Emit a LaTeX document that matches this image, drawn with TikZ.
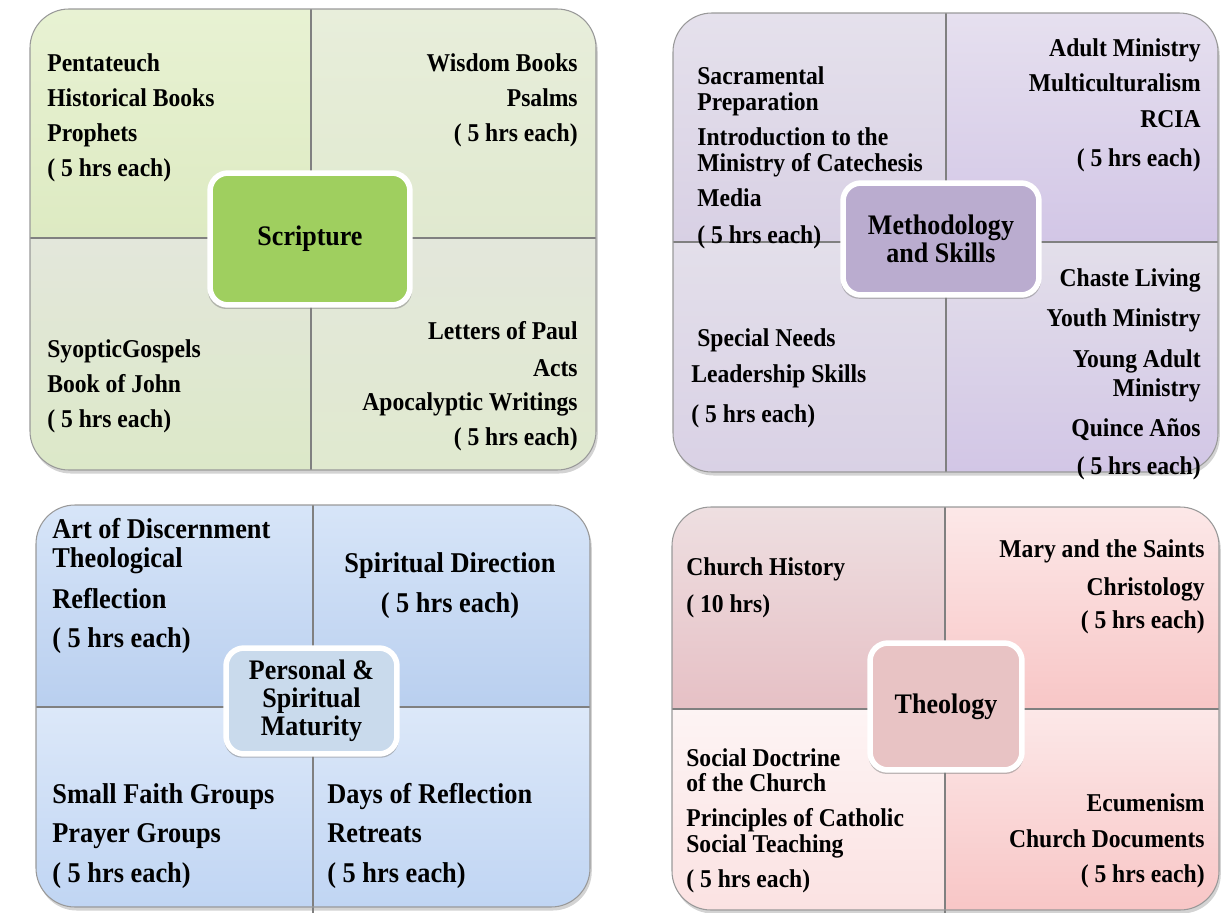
\documentclass[tikz,border=0pt]{standalone}
\usepackage{fontspec}
\setmainfont{Liberation Serif}[FakeStretch=0.92]
\usetikzlibrary{positioning, shadows}
\definecolor{grnA}{HTML}{E8F2D3}
\definecolor{grnB}{HTML}{DDEAC2}
\definecolor{grnC}{HTML}{E8EEDB}
\definecolor{grnD}{HTML}{E0E9CF}
\definecolor{grnE}{HTML}{E3E7DB}
\definecolor{grnF}{HTML}{DCE8C8}
\definecolor{grnHub}{HTML}{9FCF5F}
\definecolor{vioA}{HTML}{E5E1EC}
\definecolor{vioB}{HTML}{D8D0E4}
\definecolor{vioC}{HTML}{E6E0EF}
\definecolor{vioD}{HTML}{D2C6E6}
\definecolor{vioE}{HTML}{E3DFEA}
\definecolor{vioF}{HTML}{D9D1E5}
\definecolor{vioHub}{HTML}{BAACCF}
\definecolor{bluA}{HTML}{D7E5F8}
\definecolor{bluB}{HTML}{B9CFEF}
\definecolor{bluC}{HTML}{DCE8F9}
\definecolor{bluD}{HTML}{C0D5F3}
\definecolor{bluHub}{HTML}{C9DAEC}
\definecolor{pnkA}{HTML}{EEDFE1}
\definecolor{pnkB}{HTML}{E6C0C5}
\definecolor{pnkC}{HTML}{FCE8E8}
\definecolor{pnkD}{HTML}{F8C6C6}
\definecolor{pnkE}{HTML}{FDF4F4}
\definecolor{pnkF}{HTML}{FBE2E2}
\definecolor{pnkHub}{HTML}{E8C3C4}
\newcommand{\itemfont}{\bfseries\fontsize{14.6}{14.8}\selectfont}
\newcommand{\bigitemfont}{\bfseries\fontsize{16.3}{16.5}\selectfont}
\newcommand{\hubfont}{\bfseries\fontsize{16.1}{15.9}\selectfont}
\tikzset{%
  x=0.02cm, y=0.02cm,
  card/.style={fill=white, rounded corners=0.78cm, drop shadow={opacity=0.35, shadow xshift=1pt, shadow yshift=-2pt}},
  rim/.style={draw=black!40, line width=0.6pt, rounded corners=0.78cm},
  split/.style={draw=black!50, line width=0.9pt},
  hub/.style={draw=white, line width=0.11cm, rounded corners=0.36cm, font=\hubfont, align=center, inner sep=0pt,
    drop shadow={opacity=0.5, shadow xshift=0pt, shadow yshift=-1.5pt, shadow scale=1.02}},
  txl/.style={anchor=north west, align=left, inner sep=0pt, font=\itemfont},
  txr/.style={anchor=north east, align=right, inner sep=0pt, font=\itemfont},
  txc/.style={anchor=north, align=center, inner sep=0pt, font=\itemfont}
}
\begin{document}
\begin{tikzpicture}
        \useasboundingbox (0,0) rectangle (1232,-913);
        % Scripture
        \fill[card] (30,-9) rectangle (596,-470);
        \begin{scope}
          \clip[rounded corners=0.78cm] (30,-9) rectangle (596,-470);
          \shade[top color=grnA, bottom color=grnB] (30,-9) rectangle (311,-238);
          \shade[top color=grnC, bottom color=grnD] (311,-9) rectangle (596,-238);
          \shade[top color=grnE, bottom color=grnF] (30,-238) rectangle (311,-470);
          \shade[top color=grnE, bottom color=grnD] (311,-238) rectangle (596,-470);
        \end{scope}
        \draw[split] (311,-9) -- (311,-470);
        \draw[split] (30,-238) -- (596,-238);
        \draw[rim] (30,-9) rectangle (596,-470);
        \node[hub, fill=grnHub, minimum width=4cm, minimum height=2.64cm] (scripture) at (310,-239) {Scripture};
        \node[txl] (scrUL) at (47,-53)  {Pentateuch\\[1.8mm]Historical Books\\[1.8mm]Prophets\\[1.8mm]( 5 hrs each)};
        \node[txr] (scrUR) at (578,-53) {Wisdom Books\\[1.8mm]Psalms\\[1.8mm]( 5 hrs each)};
        \node[txl] (scrLL) at (47,-339) {SyopticGospels\\[1.8mm]Book of John\\[1.8mm]( 5 hrs each)};
        \node[txr] (scrLR) at (578,-321) {Letters of Paul\\[2.2mm]Acts\\[1.6mm]Apocalyptic Writings\\[1.8mm]( 5 hrs each)};
        % Methodology and Skills
        \fill[card] (673,-13) rectangle (1218,-472);
        \begin{scope}
          \clip[rounded corners=0.78cm] (673,-13) rectangle (1218,-472);
          \shade[top color=vioA, bottom color=vioB] (673,-13) rectangle (946,-242);
          \shade[top color=vioC, bottom color=vioD] (946,-13) rectangle (1218,-242);
          \shade[top color=vioE, bottom color=vioF] (673,-242) rectangle (946,-472);
          \shade[top color=vioE, bottom color=vioD] (946,-242) rectangle (1218,-472);
        \end{scope}
        \draw[split] (946,-13) -- (946,-472);
        \draw[split] (673,-242) -- (1218,-242);
        \draw[rim] (673,-13) rectangle (1218,-472);
        \node[hub, fill=vioHub, minimum width=3.92cm, minimum height=2.24cm] (method) at (941,-239) {Methodology\\and Skills};
        \node[txl] (metUL) at (697,-66) {Sacramental\\Preparation\\[1.8mm]Introduction to the\\Ministry of Catechesis\\[1.8mm]Media\\[2.2mm]( 5 hrs each)};
        \node[txr] (metUR) at (1201,-38) {Adult Ministry\\[1.8mm]Multiculturalism\\[2mm]RCIA\\[2.6mm]( 5 hrs each)};
        \node[txl] (metLL) at (691,-328) {\hspace*{1.2mm}Special Needs\\[2mm]Leadership Skills\\[2.8mm]( 5 hrs each)};
        \node[txr] (metLR) at (1201,-268) {Chaste Living\\[2.8mm]Youth Ministry\\[3mm]Young Adult\\[0.6mm]Ministry\\[2.8mm]Quince Años\\[2.4mm]( 5 hrs each)};
        % Personal & Spiritual Maturity
        \fill[card] (36,-505) rectangle (590,-907);
        \begin{scope}
          \clip[rounded corners=0.78cm] (36,-505) rectangle (590,-907);
          \shade[top color=bluA, bottom color=bluB] (36,-505) rectangle (313,-707);
          \shade[top color=bluA, bottom color=bluB] (313,-505) rectangle (590,-707);
          \shade[top color=bluC, bottom color=bluD] (36,-707) rectangle (313,-907);
          \shade[top color=bluC, bottom color=bluD] (313,-707) rectangle (590,-907);
        \end{scope}
        \draw[split] (313,-505) -- (313,-913);
        \draw[split] (36,-707) -- (590,-707);
        \draw[rim] (36,-505) rectangle (590,-907);
        \node[hub, fill=bluHub, minimum width=3.42cm, minimum height=2.12cm] (personal) at (311.5,-701) {Personal \&\\Spiritual\\Maturity};
        \node[txl, font=\bigitemfont] (perUL) at (52,-518) {Art of Discernment\\Theological\\[2.4mm]Reflection\\[2mm]( 5 hrs each)};
        \node[txc, font=\bigitemfont] (perUR) at (450,-552) {Spiritual Direction\\[2.2mm]( 5 hrs each)};
        \node[txl, font=\bigitemfont] (perLL) at (52,-783) {Small Faith Groups\\[2mm]Prayer Groups\\[2.2mm]( 5 hrs each)};
        \node[txl, font=\bigitemfont] (perLR) at (327,-783) {Days of Reflection\\[2mm]Retreats\\[2.2mm]( 5 hrs each)};
        % Theology
        \fill[card] (672,-507) rectangle (1219,-910);
        \begin{scope}
          \clip[rounded corners=0.78cm] (672,-507) rectangle (1219,-910);
          \shade[top color=pnkA, bottom color=pnkB] (672,-507) rectangle (945,-709);
          \shade[top color=pnkC, bottom color=pnkD] (945,-507) rectangle (1219,-709);
          \shade[top color=pnkE, bottom color=pnkF] (672,-709) rectangle (945,-910);
          \shade[top color=pnkC, bottom color=pnkD] (945,-709) rectangle (1219,-910);
        \end{scope}
        \draw[split] (945,-507) -- (945,-913);
        \draw[split] (672,-709) -- (1219,-709);
        \draw[rim] (672,-507) rectangle (1219,-910);
        \node[hub, fill=pnkHub, minimum width=3.04cm, minimum height=2.54cm] (theology) at (946,-706.5) {Theology};
        \node[txl] (theUL) at (686,-557) {Church History\\[2.2mm]( 10 hrs)};
        \node[txr] (theUR) at (1205,-539) {Mary and the Saints\\[2.4mm]Christology\\[1.4mm]( 5 hrs each)};
        \node[txl] (theLL) at (686,-748) {Social Doctrine\\[-0.2mm]of the Church\\[1.8mm]Principles of Catholic\\Social Teaching\\[1.8mm]( 5 hrs each)};
        \node[txr] (theLR) at (1205,-793) {Ecumenism\\[2mm]Church Documents\\[1.8mm]( 5 hrs each)};
\end{tikzpicture}
\end{document}
